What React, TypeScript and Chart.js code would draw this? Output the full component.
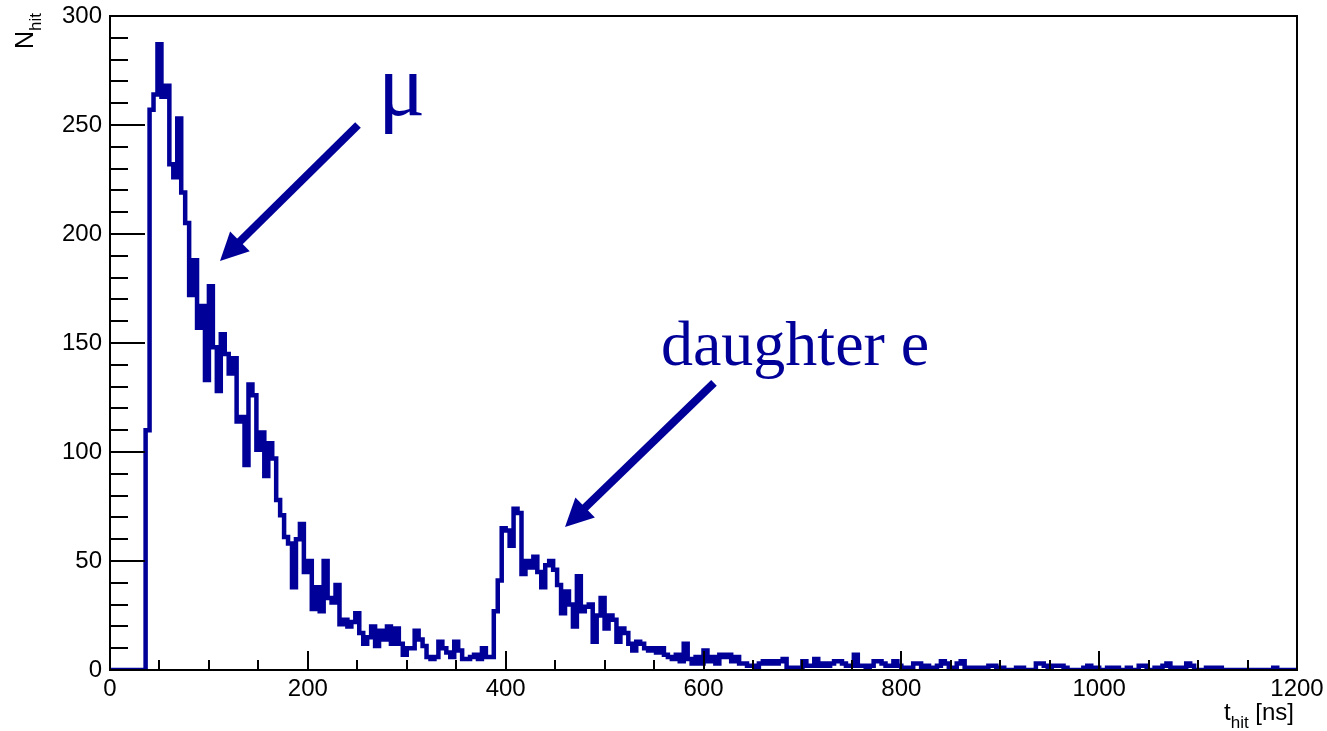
import React, { useEffect, useRef } from "react";
import { Chart, registerables } from "chart.js";

Chart.register(...registerables);

// ---------------- data ----------------
const BIN_WIDTH = 4; // ns per bin
const X_RANGE = [0, 1200];
const Y_RANGE = [0, 300];
const X_TICKS = [0, 200, 400, 600, 800, 1000, 1200];
const Y_TICKS = [0, 50, 100, 150, 200, 250, 300];
const X_MINOR_STEP = 50;
const Y_MINOR_STEP = 10;

// bins 0-8 (0–36 ns)
const countsBeforeMuon = [0, 0, 0, 0, 0, 0, 0, 0, 0];
// bins 9-33
const countsMuonPeak = [
  110, 257, 264, 287, 263, 268, 232, 226, 253, 219, 205, 172, 188, 157, 167, 133, 176, 148, 128, 154,
  145, 136, 143, 114, 116,
];
// bins 34-96
const countsMuonDecay = [
  94, 131, 126, 101, 109, 89, 104, 97, 78, 71,
  61, 58, 38, 60, 67, 45, 50, 28, 38, 27,
  50, 33, 31, 39, 21, 23, 20, 22, 26, 17,
  12, 15, 20, 11, 18, 14, 20, 12, 19, 12,
  7, 10, 10, 18, 14, 11, 6, 5, 6, 13,
  10, 8, 6, 13, 9, 5, 5, 6, 7, 5,
  10, 6, 6,
];
// bins 97-159
const countsElectron = [
  27, 41, 65, 64, 57, 74, 72, 44, 50, 47,
  52, 45, 38, 48, 50, 46, 39, 26, 36, 30,
  20, 43, 27, 29, 30, 13, 25, 33, 19, 25,
  23, 13, 19, 17, 12, 9, 13, 12, 10, 9,
  10, 8, 10, 7, 6, 5, 7, 4, 12, 5,
  3, 6, 3, 9, 4, 6, 3, 7, 6, 7,
  4, 6, 3,
];
// bins 160-299
const countsTail = [
  3, 2, 2, 1, 3, 4, 3, 4, 3, 4,
  5, 1, 1, 1, 1, 4, 2, 2, 5, 2,
  3, 2, 3, 4, 4, 3, 2, 2, 7, 2,
  2, 1, 2, 4, 4, 3, 2, 2, 4, 2,
  1, 1, 1, 3, 3, 1, 2, 1, 1, 2,
  4, 3, 1, 1, 3, 4, 1, 1, 0, 1,
  1, 1, 2, 2, 0, 1, 0, 0, 0, 1,
  1, 0, 0, 0, 3, 3, 2, 0, 2, 2,
  2, 1, 0, 0, 0, 0, 1, 2, 1, 1,
  0, 0, 1, 1, 1, 0, 0, 1, 0, 0,
  2, 2, 0, 0, 1, 0, 2, 3, 0, 1,
  1, 1, 3, 2, 0, 0, 0, 1, 1, 1,
  1, 0, 0, 0, 0, 0, 0, 0, 0, 0,
  0, 0, 0, 0, 1, 0, 0, 0, 0, 0,
];

// annotations in data coordinates [t (ns), N]
const MU_LABEL = { text: "\u03bc", at: [271, 254.5] };
const E_LABEL = { text: "daughter e", at: [557, 139.8] };
const MU_ARROW = { from: [250.7, 250], to: [111.2, 187.6] };
const E_ARROW = { from: [610.6, 131.7], to: [460, 65.6] };

// ---------------- styles ----------------
const HIST_COLOR = "#000099";
const SANS = "'Liberation Sans', Arial, sans-serif";
const SERIF = "'Liberation Serif', 'Times New Roman', serif";

const counts = [
  ...countsBeforeMuon,
  ...countsMuonPeak,
  ...countsMuonDecay,
  ...countsElectron,
  ...countsTail,
];

function buildPoints() {
  // point i sits at the left edge of bin i; with stepped "before" the value
  // is held horizontally until the next edge
  const pts = counts.map((c, i) => ({ x: X_RANGE[0] + i * BIN_WIDTH, y: c }));
  pts.push({ x: X_RANGE[0] + counts.length * BIN_WIDTH, y: counts[counts.length - 1] });
  return pts;
}

function drawArrow(
  ctx: CanvasRenderingContext2D,
  x1: number, y1: number, x2: number, y2: number,
  shaftW: number, headLen: number, headHalf: number
) {
  const dx = x2 - x1, dy = y2 - y1;
  const len = Math.hypot(dx, dy);
  const ux = dx / len, uy = dy / len;
  const bx = x2 - ux * headLen, by = y2 - uy * headLen;
  ctx.beginPath();
  ctx.moveTo(x1, y1);
  ctx.lineTo(bx + ux * 3, by + uy * 3);
  ctx.lineWidth = shaftW;
  ctx.lineCap = "butt";
  ctx.stroke();
  ctx.beginPath();
  ctx.moveTo(x2, y2);
  ctx.lineTo(bx - uy * headHalf, by + ux * headHalf);
  ctx.lineTo(bx + uy * headHalf, by - ux * headHalf);
  ctx.closePath();
  ctx.fill();
}

const rootStylePlugin = {
  id: "rootStyle",
  afterDatasetsDraw(chart: any) {
    const { ctx, chartArea: a, scales } = chart;
    const xs = scales.x, ys = scales.y;
    ctx.save();
    // frame
    ctx.strokeStyle = "#000";
    ctx.lineWidth = 2;
    ctx.strokeRect(a.left, a.top, a.right - a.left, a.bottom - a.top);

    // x ticks (inward)
    ctx.lineWidth = 2;
    for (let v = X_RANGE[0]; v <= X_RANGE[1]; v += X_MINOR_STEP) {
      const px = Math.round(xs.getPixelForValue(v));
      const major = X_TICKS.includes(v);
      const L = major ? 19 : 10;
      ctx.beginPath();
      ctx.moveTo(px, a.bottom);
      ctx.lineTo(px, a.bottom - L);
      ctx.stroke();
    }
    // y ticks (inward)
    for (let v = Y_RANGE[0]; v <= Y_RANGE[1]; v += Y_MINOR_STEP) {
      const py = Math.round(ys.getPixelForValue(v));
      const major = Y_TICKS.includes(v);
      const L = major ? 35 : 18;
      ctx.beginPath();
      ctx.moveTo(a.left, py);
      ctx.lineTo(a.left + L, py);
      ctx.stroke();
    }

    // x title: t_hit [ns]
    ctx.fillStyle = "#000";
    ctx.textBaseline = "alphabetic";
    ctx.textAlign = "left";
    const mainF = `24px ${SANS}`;
    const subF = `17px ${SANS}`;
    ctx.font = mainF;
    const wT = ctx.measureText("t").width;
    const wNs = ctx.measureText(" [ns]").width;
    ctx.font = subF;
    const wHit = ctx.measureText("hit").width;
    const total = wT + wHit + wNs;
    const xStart = a.right - 3 - total;
    const base = a.bottom + 50;
    ctx.font = mainF;
    ctx.fillText("t", xStart, base);
    ctx.font = subF;
    ctx.fillText("hit", xStart + wT, base + 8);
    ctx.font = mainF;
    ctx.fillText(" [ns]", xStart + wT + wHit, base);

    // y title: N_hit (rotated)
    ctx.save();
    ctx.translate(a.left - 77, a.top + 33);
    ctx.rotate(-Math.PI / 2);
    ctx.font = `25px ${SANS}`;
    ctx.fillText("N", 0, 0);
    const wN = ctx.measureText("N").width;
    ctx.font = subF;
    ctx.fillText("hit", wN, 8);
    ctx.restore();

    // annotations
    ctx.fillStyle = HIST_COLOR;
    ctx.strokeStyle = HIST_COLOR;
    ctx.font = `88px ${SERIF}`;
    ctx.fillText(MU_LABEL.text, xs.getPixelForValue(MU_LABEL.at[0]), ys.getPixelForValue(MU_LABEL.at[1]));
    ctx.font = `64px ${SERIF}`;
    ctx.fillText(E_LABEL.text, xs.getPixelForValue(E_LABEL.at[0]), ys.getPixelForValue(E_LABEL.at[1]));
    for (const ar of [MU_ARROW, E_ARROW]) {
      drawArrow(
        ctx,
        xs.getPixelForValue(ar.from[0]), ys.getPixelForValue(ar.from[1]),
        xs.getPixelForValue(ar.to[0]), ys.getPixelForValue(ar.to[1]),
        8, 28, 14
      );
    }
    ctx.restore();
  },
};

function zeroPad(s: any) {
  s.paddingLeft = 0;
  s.paddingRight = 0;
  s.paddingTop = 0;
  s.paddingBottom = 0;
}

export default function App() {
  const ref = useRef<HTMLCanvasElement | null>(null);
  useEffect(() => {
    if (!ref.current) return;
    const chart = new Chart(ref.current, {
      type: "line",
      data: {
        datasets: [
          {
            data: buildPoints(),
            stepped: "before",
            borderColor: HIST_COLOR,
            borderWidth: 4.5,
            pointRadius: 0,
            fill: false,
            borderJoinStyle: "miter",
            borderCapStyle: "butt",
          } as any,
        ],
      },
      options: {
        responsive: false,
        animation: false,
        devicePixelRatio: 1,
        layout: { padding: { top: 16, right: 30, left: 0, bottom: 0 } },
        plugins: { legend: { display: false }, tooltip: { enabled: false } },
        scales: {
          x: {
            type: "linear",
            min: X_RANGE[0],
            max: X_RANGE[1],
            grid: { display: false, drawTicks: false },
            border: { display: false },
            ticks: {
              color: "#000",
              font: { size: 24, family: SANS },
              padding: 5,
              maxRotation: 0,
              autoSkip: false,
              callback: (v: any) => String(v),
            },
            afterBuildTicks: (s: any) => {
              s.ticks = X_TICKS.map((v) => ({ value: v }));
            },
            afterFit: (s: any) => {
              s.height = 61;
              zeroPad(s);
            },
          },
          y: {
            type: "linear",
            min: Y_RANGE[0],
            max: Y_RANGE[1],
            grid: { display: false, drawTicks: false },
            border: { display: false },
            ticks: {
              color: "#000",
              font: { size: 24, family: SANS },
              padding: 8,
              autoSkip: false,
              callback: (v: any) => String(v),
            },
            afterBuildTicks: (s: any) => {
              s.ticks = Y_TICKS.map((v) => ({ value: v }));
            },
            afterFit: (s: any) => {
              s.width = 110;
              zeroPad(s);
            },
          },
        },
      } as any,
      plugins: [rootStylePlugin],
    });
    return () => chart.destroy();
  }, []);
  return (
    <canvas
      ref={ref}
      width={1327}
      height={731}
      style={{ position: "fixed", left: 0, top: 0, width: 1327, height: 731, background: "#fff" }}
    />
  );
}
